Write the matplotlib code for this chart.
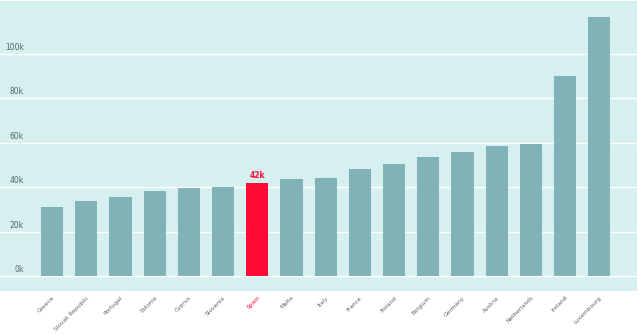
import matplotlib
matplotlib.use("Agg")
import matplotlib.pyplot as plt
from matplotlib.transforms import blended_transform_factory

countries = ["Greece", "Slovak Republic", "Portugal", "Estonia", "Cyprus", "Slovenia",
             "Spain", "Malta", "Italy", "France", "Finland", "Belgium", "Germany",
             "Austria", "Netherlands", "Ireland", "Luxembourg"]
values = [31.0, 33.6, 35.7, 38.4, 39.6, 40.0, 41.8, 43.5, 44.0, 48.0, 50.5,
          53.5, 55.7, 58.4, 59.2, 89.9, 116.4]
yticks = [0, 20, 40, 60, 80, 100]
ytick_labels = ["0k", "20k", "40k", "60k", "80k", "100k"]
highlight = "Spain"
highlight_label = "42k"

BG = "#d5f0ef"
BAR = "#80b2b8"
RED = "#ff0a35"
TXT = "#5a6468"

fig = plt.figure(figsize=(6.39, 3.35), dpi=100)
ax = fig.add_axes([0, 1 - 291 / 335, 637 / 639, 290 / 335])
ax.set_facecolor(BG)
for s in ax.spines.values():
    s.set_visible(False)

x = list(range(len(countries)))
colors = [RED if c == highlight else BAR for c in countries]
ax.bar(x, values, width=0.65, color=colors, zorder=3)

for t in yticks:
    ax.axhline(t, color="white", lw=1.0, zorder=2)
tr = blended_transform_factory(ax.transAxes, ax.transData)
for t, lab in zip(yticks, ytick_labels):
    ax.text(24 / 637, t + 0.9, lab, transform=tr, ha="right", va="bottom",
            fontsize=5.5, color=TXT, zorder=4)

hi = countries.index(highlight)
ax.text(hi, values[hi] + 1.5, highlight_label, ha="center", va="bottom",
        fontsize=5.5, fontweight="bold", color=RED, zorder=4)

ax.set_xlim(-1.52, 17.1)
ax.set_ylim(-6.75, 123.7)
ax.set_yticks([])
ax.set_xticks(x)
ax.set_xticklabels(countries, rotation=45, ha="right", rotation_mode="anchor",
                   fontsize=4.2, color=TXT)
for lbl, c in zip(ax.get_xticklabels(), countries):
    if c == highlight:
        lbl.set_color(RED)
ax.tick_params(axis="x", length=0, pad=3)

fig.savefig("out.png", dpi=100, facecolor="white")
